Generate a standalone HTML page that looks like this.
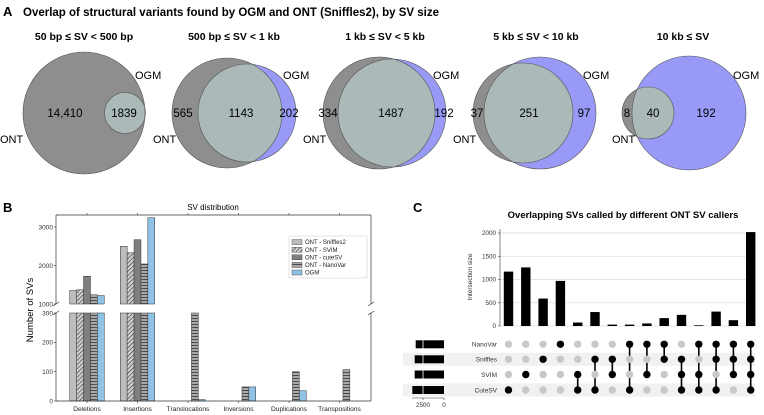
<!DOCTYPE html>
<html><head><meta charset="utf-8"><style>
body{margin:0;background:#fff;}
svg{display:block;font-family:"Liberation Sans",sans-serif;}
</style></head><body>
<svg id="fig" width="764" height="415" viewBox="0 0 764 415">
<defs>
<pattern id="hatchDiag" patternUnits="userSpaceOnUse" width="3" height="3" patternTransform="rotate(45)"><rect width="3" height="3" fill="#d0d0d0"/><line x1="0" y1="0" x2="0" y2="3" stroke="#333" stroke-width="1.2"/></pattern>
<pattern id="hatchHoriz" patternUnits="userSpaceOnUse" width="4" height="3"><rect width="4" height="3" fill="#a8a8a8"/><line x1="0" y1="0.5" x2="4" y2="0.5" stroke="#333" stroke-width="0.8"/></pattern>
</defs>
<g id="panelA">
<text x="3" y="16" font-size="13" font-weight="bold">A</text>
<text x="23" y="16" font-size="11.5" font-weight="bold">Overlap of structural variants found by OGM and ONT (Sniffles2), by SV size</text>
</g>
<g id="panelB">
<text x="3" y="212" font-size="13" font-weight="bold">B</text>
<text x="213" y="210" font-size="8" text-anchor="middle">SV distribution</text>
<text transform="translate(33,310) rotate(-90)" font-size="9.5" text-anchor="middle">Number of SVs</text>
</g>
<g id="panelC">
<text x="413" y="212" font-size="13" font-weight="bold">C</text>
<text x="623" y="218" font-size="9.5" font-weight="bold" text-anchor="middle">Overlapping SVs called by different ONT SV callers</text>
<text transform="translate(472,277) rotate(-90)" font-size="6.5" text-anchor="middle" fill="#333">Intersection size</text>
</g>
</svg>
<script>
// ---------- Panel A data ----------
const vennTitles=["50 bp ≤ SV < 500 bp","500 bp ≤ SV < 1 kb","1 kb ≤ SV < 5 kb","5 kb ≤ SV < 10 kb","10 kb ≤ SV"];
const vennOntOnly=["14,410","565","334","37","8"];
const vennShared=["1839","1143","1487","251","40"];
const vennOgmOnly=["","202","192","97","192"];
// ---------- Panel B data ----------
const bCategories=["Deletions","Insertions","Translocations","Inversions","Duplications","Transpositions"];
const bSeriesNames=["ONT - Sniffles2","ONT - SVIM","ONT - cuteSV","ONT - NanoVar","OGM"];
const bSniffles=[1350,2500,0,0,0,0];
const bSvim=[1370,2330,0,0,0,0];
const bCutesv=[1720,2670,0,0,0,0];
const bNanovar=[1240,2040,300,48,100,107];
const bOgm=[1220,3240,5,48,35,0];
const bUpperTicks=[1000,2000,3000];
const bLowerTicks=[0,100,200,300];
// ---------- Panel C data ----------
const cSets=["NanoVar","Sniffles","SVIM","CuteSV"];
const cSetSizes=[3370,3490,3490,3770];
const cIntersections=[1170,1260,590,970,75,300,30,30,55,170,240,15,310,125,2020];
const cMembership=["C","V","S","N","VC","SC","SV","NC","NV","NS","SVC","NVC","NSC","NSV","NSVC"];
const cYTicks=[0,500,1000,1500,2000];
const cSetTicks=[2500,0];

const NS="http://www.w3.org/2000/svg";
const svg=document.getElementById('fig');
function mk(tag,attrs,parent,text){const e=document.createElementNS(NS,tag);for(const k in attrs)e.setAttribute(k,attrs[k]);if(text!==undefined)e.textContent=text;(parent||svg).appendChild(e);return e;}

// ---------- Panel A ----------
const gA=document.getElementById('panelA');
const vennGeom=[
 {t:84,g:[84,113,61],b:[125,113,20.5],l:[65,124,0],ogm:[135,79],ont:[0,143]},
 {t:234,g:[227,113,55],b:[247,113,49],l:[183,241,289],ogm:[283,79],ont:[153,143]},
 {t:385,g:[379,113,56],b:[392,113,54],l:[328,391,444],ogm:[433,79],ont:[303,143]},
 {t:536,g:[523,113,50],b:[540,113,56],l:[477,529,584],ogm:[583,79],ont:[453,143]},
 {t:683,g:[648,113,26],b:[689,113,57],l:[627,653,706],ogm:[733,79],ont:[612,143]}
];
vennGeom.forEach((v,i)=>{
 const g=mk('g',{},gA);
 
 
 const tt=mk('text',{x:v.t,y:40,'font-size':10.5,'font-weight':'bold','text-anchor':'middle'},g,vennTitles[i]);
 
 
 const cp=mk('clipPath',{id:'clipG'+i},g);
 mk('circle',{cx:v.g[0],cy:v.g[1],r:v.g[2]},cp);
 const bl=mk('circle',{cx:v.b[0],cy:v.b[1],r:v.b[2],fill:'#9999f8'},g);
 
 
 const gr=mk('circle',{cx:v.g[0],cy:v.g[1],r:v.g[2],fill:'#8e8e8e'},g);
 
 
 const ov=mk('circle',{cx:v.b[0],cy:v.b[1],r:v.b[2],fill:'#abb9b9','clip-path':'url(#clipG'+i+')'},g);
 
 
 mk('circle',{cx:v.g[0],cy:v.g[1],r:v.g[2],fill:'none',stroke:'#555','stroke-width':0.6},g);
 mk('circle',{cx:v.b[0],cy:v.b[1],r:v.b[2],fill:'none',stroke:'#555','stroke-width':0.6},g);
 const labs=[vennOntOnly[i],vennShared[i],vennOgmOnly[i]];
 labs.forEach((s,k)=>{if(!s)return;const t=mk('text',{x:v.l[k],y:117,'font-size':11.5,'text-anchor':'middle'},g,s);
  
  });
 const o=mk('text',{x:v.ogm[0],y:v.ogm[1],'font-size':11},g,'OGM');
 
 
 const n=mk('text',{x:v.ont[0],y:v.ont[1],'font-size':11},g,'ONT');
 
 
});

// ---------- Panel B ----------
const gB=document.getElementById('panelB');
const bL=56,bR=371,bTop=215,bUpBot=304,bLowTop=313,bBot=401;
function yUp(v){return bUpBot-(v-1000)*((bUpBot-227)/2000);}
function yLow(v){return bBot-v*((bBot-bLowTop)/300);}
function xCat(i){return 87+i*50.5;}
const bw=6.9;
const bSeries=[bSniffles,bSvim,bCutesv,bNanovar,bOgm];
const bFills=['#bdbdbd','url(#hatchDiag)','#7f7f7f','url(#hatchHoriz)','#8fc3e6'];
bSeries.forEach((ser,s)=>{
 ser.forEach((v,i)=>{
  if(v<=0)return;
  const x=xCat(i)+(s-2.5)*bw;
  if(v<=300){
   const r=mk('rect',{x:x,y:yLow(v),width:bw,height:bBot-yLow(v),fill:bFills[s],stroke:'#333','stroke-width':0.5},gB);
   
   
  }else{
   const r=mk('rect',{x:x,y:bLowTop,width:bw,height:bBot-bLowTop,fill:bFills[s],stroke:'#333','stroke-width':0.5},gB);
   
   
   const yy=Math.max(yUp(v),bTop);
   const r2=mk('rect',{x:x,y:yy,width:bw,height:bUpBot-yy,fill:bFills[s],stroke:'#333','stroke-width':0.5},gB);
   
   
  }
 });
});
const ax='#333';
mk('line',{x1:bL,y1:bTop,x2:bR,y2:bTop,stroke:ax,'stroke-width':0.7},gB);
mk('line',{x1:bL,y1:bBot,x2:bR,y2:bBot,stroke:ax,'stroke-width':0.7},gB);
[bL,bR].forEach(x=>{
 mk('line',{x1:x,y1:bTop,x2:x,y2:bUpBot,stroke:ax,'stroke-width':0.7},gB);
 mk('line',{x1:x,y1:bLowTop,x2:x,y2:bBot,stroke:ax,'stroke-width':0.7},gB);
 mk('line',{x1:x-3,y1:bUpBot+2,x2:x+3,y2:bUpBot-2,stroke:ax,'stroke-width':0.7},gB);
 mk('line',{x1:x-3,y1:bLowTop+2,x2:x+3,y2:bLowTop-2,stroke:ax,'stroke-width':0.7},gB);
});
bUpperTicks.forEach(t=>{const y=yUp(t);mk('line',{x1:bL-2,y1:y,x2:bL,y2:y,stroke:ax,'stroke-width':0.6},gB);
 const tx=mk('text',{x:bL-3,y:y+2.3,'font-size':6.5,'text-anchor':'end',fill:'#333'},gB,t);
 
 });
bLowerTicks.forEach(t=>{const y=yLow(t);mk('line',{x1:bL-2,y1:y,x2:bL,y2:y,stroke:ax,'stroke-width':0.6},gB);
 const tx=mk('text',{x:bL-3,y:y+2.3,'font-size':6.5,'text-anchor':'end',fill:'#333'},gB,t);
 
 });
bCategories.forEach((c,i)=>{const x=xCat(i);
 mk('line',{x1:x,y1:bBot,x2:x,y2:bBot+2,stroke:ax,'stroke-width':0.6},gB);
 mk('line',{x1:x,y1:bTop,x2:x,y2:bTop-2,stroke:ax,'stroke-width':0.6},gB);
 const tx=mk('text',{x:x,y:411,'font-size':6.6,'text-anchor':'middle',fill:'#222'},gB,c);
 
 });
const lg=mk('g',{},gB);


mk('rect',{x:289,y:236,width:78,height:42,fill:'#fff',stroke:'#ccc','stroke-width':0.6,rx:1.5},lg);
bSeriesNames.forEach((n,s)=>{const y=242+s*7.6;
 mk('rect',{x:292,y:y-2.4,width:10,height:5,fill:bFills[s],stroke:'#333','stroke-width':0.4},lg);
 const tx=mk('text',{x:305,y:y+2.2,'font-size':6,fill:'#222'},lg,n);
 
 });

// ---------- Panel C ----------
const gC=document.getElementById('panelC');
const cAxX=500,cRight=755,cY0=326,cY2000=233;
function cy(v){return cY0-v*(cY0-cY2000)/2000;}
function cx(i){return 508.5+i*17.3;}
const rowY=[344.3,359.3,374.5,390];
[1,3].forEach(r=>{mk('rect',{x:403,y:rowY[r]-6.5,width:cRight-403,height:13,fill:'#f1f1f1'},gC);});
cYTicks.forEach(t=>{const y=cy(t);
 mk('line',{x1:cAxX,y1:y,x2:cRight,y2:y,stroke:'#ddd','stroke-width':0.7},gC);
 mk('line',{x1:cAxX-2,y1:y,x2:cAxX,y2:y,stroke:'#333','stroke-width':0.6},gC);
 const tx=mk('text',{x:cAxX-4,y:y+2.2,'font-size':6.3,'text-anchor':'end',fill:'#333'},gC,t);
 
 });
mk('line',{x1:cAxX,y1:cY2000-4,x2:cAxX,y2:cY0,stroke:'#333','stroke-width':0.6},gC);
cIntersections.forEach((v,i)=>{
 const r=mk('rect',{x:cx(i)-4.7,y:cy(v),width:9.4,height:cY0-cy(v),fill:'#000'},gC);
 
 
});
const codes=['N','S','V','C'];
cMembership.forEach((m,i)=>{
 const act=codes.map((c,r)=>m.indexOf(c)>=0?r:-1).filter(r=>r>=0);
 if(act.length>1)mk('line',{x1:cx(i),y1:rowY[act[0]],x2:cx(i),y2:rowY[act[act.length-1]],stroke:'#000','stroke-width':1.6},gC);
 codes.forEach((c,r)=>{const on=m.indexOf(c)>=0;
  const d=mk('circle',{cx:cx(i),cy:rowY[r],r:3.7,fill:on?'#000':'#c8c8c8'},gC);
  
  });
});
const sx0=444,sPer=21/2500;
cSets.forEach((s,r)=>{
 const w=cSetSizes[r]*sPer;
 const b=mk('rect',{x:sx0-w,y:rowY[r]-4,width:w,height:8,fill:'#000'},gC);
 
 
 const t=mk('text',{x:497,y:rowY[r]+2.3,'font-size':6.5,'text-anchor':'end',fill:'#333'},gC,s);
 
 
});
mk('line',{x1:sx0-2500*sPer,y1:rowY[0]-7,x2:sx0-2500*sPer,y2:rowY[3]+7,stroke:'#fff','stroke-width':0.8},gC);
mk('line',{x1:412,y1:398,x2:sx0,y2:398,stroke:'#333','stroke-width':0.6},gC);
cSetTicks.forEach(t=>{const x=sx0-t*sPer;
 mk('line',{x1:x,y1:398,x2:x,y2:400,stroke:'#333','stroke-width':0.6},gC);
 const tx=mk('text',{x:x,y:407,'font-size':6.3,'text-anchor':'middle',fill:'#333'},gC,t);
 
 });
</script>
</body></html>
